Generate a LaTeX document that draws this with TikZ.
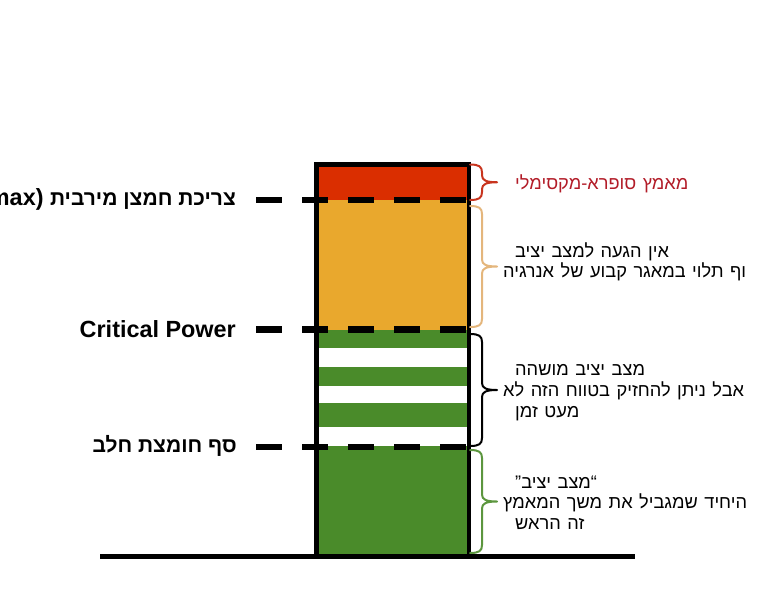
\documentclass[tikz,border=0pt]{standalone}
\usepackage{fontspec}
\setmainfont{Liberation Sans}
\newfontfamily\heb[Script=Hebrew]{Liberation Sans}
\TeXXeTstate=1
\definecolor{cRed}{RGB}{218,46,0}
\definecolor{cOrange}{RGB}{233,168,45}
\definecolor{cGreen}{RGB}{74,139,42}
\definecolor{bRed}{RGB}{200,52,30}
\definecolor{bOrange}{RGB}{228,182,124}
\definecolor{bGreen}{RGB}{92,150,62}
\definecolor{tRed}{RGB}{178,28,40}
\newcommand\wideSpaces{\spaceskip=6.5pt plus 1pt\relax}
\tikzset{
  levelline/.style={line width=6.5pt, dash pattern=on 26pt off 20pt, line cap=butt},
  leftlabel/.style={anchor=base east, inner sep=0pt, font=\fontsize{23.4}{27}\selectfont\bfseries},
  hebleft/.style={anchor=base east, inner sep=0pt, font=\fontsize{21}{25}\selectfont\bfseries\heb},
  rightlabel/.style={anchor=base west, inner sep=0pt, font=\fontsize{18.2}{21}\selectfont\heb\wideSpaces},
  bracestyle/.style={line width=2pt, line join=round, line cap=round},
  barborder/.style={line width=4.5pt, line join=miter}
}
\newcommand\curlybrace[4]{%
  \pgfmathsetmacro\braceMid{(#2+#3)/2}
  \draw[bracestyle,#4] (#1,#2) .. controls (#1+9,#2) and (#1+12,#2+2) .. (#1+12,#2+8)
    -- (#1+12,\braceMid-7) .. controls (#1+12,\braceMid-2) and (#1+16,\braceMid) .. (#1+27,\braceMid)
    .. controls (#1+16,\braceMid) and (#1+12,\braceMid+2) .. (#1+12,\braceMid+7)
    -- (#1+12,#3-8) .. controls (#1+12,#3-2) and (#1+9,#3) .. (#1,#3);
}
\begin{document}
\begin{tikzpicture}[x=1pt,y=-1pt]
\useasboundingbox (0,0) rectangle (759,600);
% bar segments
\coordinate (tl) at (316.5,164.5);
\coordinate (br) at (469,556.5);
\fill[cRed] (316.5,164.5) rectangle (469,200);
\fill[cOrange] (316.5,200) rectangle (469,330);
\fill[cGreen] (316.5,330) rectangle (469,447);
\fill[white] (316.5,348.3) rectangle (469,366.7);
\fill[white] (316.5,385.7) rectangle (469,403.3);
\fill[white] (316.5,427.3) rectangle (469,446);
\fill[cGreen] (316.5,447) rectangle (469,556.5);
% level lines
\draw[levelline] (256,200) -- (468,200);
\draw[levelline] (256,329.5) -- (468,329.5);
\draw[levelline] (256,447) -- (468,447);
% bar outline and ground
\draw[barborder] (br) -- (469,164.5) -- (tl) -- (316.5,556.5);
\draw[line width=4.5pt] (100,556.5) -- (635,556.5);
% braces
\curlybrace{470}{164.5}{200}{bRed}
\curlybrace{470}{206}{327}{bOrange}
\curlybrace{470}{334}{446}{black}
\curlybrace{470}{450}{553}{bGreen}
% left labels
\node[leftlabel] (vo2) at (236,205) {(VO2max) {\fontsize{21}{25}\selectfont\heb\beginR צריכת חמצן מירבית\endR}};
\node[leftlabel] (cp) at (236,337) {Critical Power};
\node[hebleft] (lt) at (237,452) {\beginR סף חומצת חלב\endR};
% right labels
\node[rightlabel, text=tRed] (sup) at (515,189) {\beginR מאמץ סופרא-מקסימלי\endR};
\node[rightlabel] (o1) at (515,257) {\beginR אין הגעה למצב יציב\endR};
\node[rightlabel] (o2) at (503,277) {\beginR וף תלוי במאגר קבוע של אנרגיה\endR};
\node[rightlabel] (k1) at (515,375) {\beginR מצב יציב מושהה\endR};
\node[rightlabel] (k2) at (503,396) {\beginR אבל ניתן להחזיק בטווח הזה לא\endR};
\node[rightlabel] (k3) at (515,417) {\beginR מעט זמן\endR};
\node[rightlabel] (g1) at (515,488) {\beginR “מצב יציב”\endR};
\node[rightlabel] (g2) at (503,508) {\beginR היחיד שמגביל את משך המאמץ\endR};
\node[rightlabel] (g3) at (515,529) {\beginR זה הראש\endR};
\end{tikzpicture}
\end{document}
